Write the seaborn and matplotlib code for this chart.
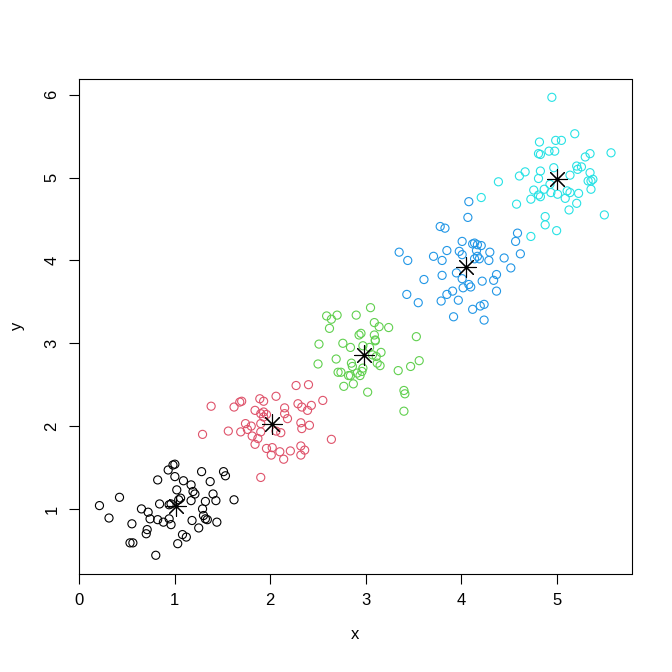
import matplotlib
matplotlib.use("Agg")
import matplotlib.pyplot as plt
import seaborn as sns
import pandas as pd

# points, one pair of lists per cluster
x1 = [0.21, 0.31, 0.42, 0.55, 0.53, 0.56, 0.65, 0.72, 0.74, 0.71, 0.70, 0.80, 0.82, 0.84, 0.82, 0.88,
      0.93, 0.98, 1.00, 1.00, 1.02, 0.94, 0.96, 0.94, 0.96, 1.06, 1.04, 1.09, 1.17, 1.19, 1.21, 1.17,
      1.08, 1.12, 1.03, 1.18, 1.25, 1.28, 1.37, 1.40, 1.32, 1.43, 1.29, 1.30, 1.32, 1.34, 1.44, 1.51,
      1.53, 1.62]
y1 = [1.04, 0.89, 1.14, 0.82, 0.59, 0.59, 1.00, 0.96, 0.88, 0.75, 0.70, 0.44, 1.35, 1.06, 0.87, 0.84,
      1.47, 1.53, 1.54, 1.39, 1.23, 1.05, 1.06, 0.88, 0.81, 1.13, 1.11, 1.34, 1.29, 1.21, 1.18, 1.10,
      0.69, 0.66, 0.58, 0.86, 0.77, 1.45, 1.33, 1.18, 1.09, 1.10, 1.00, 0.92, 0.88, 0.87, 0.84, 1.45,
      1.40, 1.11]

x2 = [1.29, 1.38, 1.56, 1.62, 1.68, 1.70, 1.69, 1.74, 1.76, 1.80, 1.81, 1.84, 1.84, 1.87, 1.89, 1.93,
      1.90, 1.93, 1.96, 1.93, 1.90, 1.90, 1.96, 2.02, 2.01, 2.06, 2.06, 2.11, 2.10, 2.15, 2.15, 2.18,
      2.14, 2.21, 2.27, 2.29, 2.33, 2.39, 2.43, 2.40, 2.32, 2.33, 2.41, 2.32, 2.36, 2.32, 2.55, 2.64,
      1.90]
y2 = [1.90, 2.24, 1.94, 2.23, 2.29, 2.30, 1.93, 2.03, 1.96, 2.00, 1.88, 2.19, 1.78, 1.85, 2.33, 2.30,
      2.15, 2.17, 2.14, 2.11, 2.03, 1.93, 1.73, 1.74, 1.65, 2.36, 1.94, 1.92, 1.69, 2.22, 2.15, 2.09,
      1.60, 1.70, 2.49, 2.27, 2.23, 2.19, 2.25, 2.50, 2.04, 1.97, 2.01, 1.76, 1.71, 1.65, 2.31, 1.84,
      1.38]

x3 = [2.59, 2.64, 2.70, 2.62, 2.51, 2.50, 2.69, 2.76, 2.84, 2.71, 2.74, 2.77, 2.82, 2.84, 2.87, 2.85,
      2.86, 2.90, 2.93, 2.95, 2.91, 2.94, 2.96, 2.97, 2.97, 3.02, 3.05, 3.09, 3.14, 3.09, 3.10, 3.10,
      3.04, 3.07, 3.11, 3.16, 3.12, 3.15, 3.24, 3.34, 3.40, 3.41, 3.40, 3.47, 3.53, 3.56]
y3 = [3.33, 3.29, 3.34, 3.18, 2.99, 2.75, 2.81, 3.00, 2.95, 2.65, 2.65, 2.48, 2.61, 2.61, 2.51, 2.76,
      2.72, 3.34, 3.10, 3.12, 2.64, 2.61, 2.66, 2.70, 2.97, 2.41, 3.43, 3.25, 3.20, 3.10, 3.04, 3.03,
      2.95, 2.86, 2.84, 2.89, 2.76, 2.73, 3.19, 2.67, 2.43, 2.39, 2.18, 2.72, 3.08, 2.79]

x4 = [3.35, 3.44, 3.43, 3.55, 3.61, 3.71, 3.78, 3.83, 3.80, 3.80, 3.79, 3.85, 3.91, 3.85, 3.92, 3.97,
      3.95, 3.98, 4.01, 4.01, 4.01, 4.02, 4.07, 4.08, 4.08, 4.10, 4.12, 4.12, 4.14, 4.17, 4.21, 4.16,
      4.17, 4.14, 4.19, 4.20, 4.24, 4.22, 4.24, 4.30, 4.29, 4.34, 4.37, 4.37, 4.45, 4.52, 4.57, 4.59,
      4.62]
y4 = [4.10, 4.00, 3.59, 3.49, 3.77, 4.05, 4.41, 4.39, 4.00, 3.82, 3.51, 3.59, 3.63, 4.12, 3.32, 3.52,
      3.85, 4.11, 4.07, 4.23, 3.78, 3.67, 4.52, 4.71, 3.71, 3.68, 3.41, 4.20, 4.21, 4.19, 4.18, 4.12,
      4.05, 4.02, 4.02, 3.45, 3.47, 3.75, 3.28, 4.10, 4.00, 3.76, 3.83, 3.63, 4.03, 3.91, 4.23, 4.33,
      4.08]

x5 = [4.95, 5.19, 4.82, 4.99, 5.05, 4.81, 4.83, 4.92, 4.98, 5.57, 5.30, 5.35, 5.21, 5.22, 5.26, 4.97,
      4.83, 4.67, 4.61, 4.81, 5.14, 4.39, 5.35, 5.33, 5.38, 5.36, 5.36, 4.76, 4.81, 4.83, 4.87, 4.94,
      5.01, 5.09, 5.11, 5.14, 5.23, 4.73, 4.58, 5.21, 5.13, 4.88, 4.88, 5.00, 5.50, 4.21, 4.73, 4.93]
y5 = [5.97, 5.53, 5.43, 5.45, 5.45, 5.29, 5.28, 5.32, 5.32, 5.30, 5.25, 5.29, 5.14, 5.10, 5.13, 5.12,
      5.08, 5.07, 5.02, 4.99, 5.03, 4.95, 5.06, 4.96, 4.98, 4.96, 4.86, 4.85, 4.79, 4.77, 4.86, 4.82,
      4.80, 4.75, 4.84, 4.82, 4.81, 4.74, 4.68, 4.69, 4.61, 4.53, 4.43, 4.36, 4.55, 4.76, 4.29, 4.92]

centers_x = [1.01, 2.02, 2.98, 4.05, 5.00]
centers_y = [1.03, 2.02, 2.86, 3.92, 4.98]

cluster_colors = ["#000000", "#DF536B", "#61D04F", "#2297E6", "#28E2E5"]

xs = [x1, x2, x3, x4, x5]
ys = [y1, y2, y3, y4, y5]
df = pd.DataFrame({
    "x": [v for xx in xs for v in xx],
    "y": [v for yy in ys for v in yy],
    "cluster": [i for i, xx in enumerate(xs) for _ in xx],
})
centers = pd.DataFrame({"x": centers_x, "y": centers_y})

sns.set_style("white")
plt.rcParams["font.family"] = ["Liberation Sans", "DejaVu Sans"]

fig = plt.figure(figsize=(6.72, 6.72), dpi=100)
ax = fig.add_axes([79 / 672, (672 - 573.6) / 672, 552.5 / 672, 494.6 / 672])

sns.scatterplot(data=df, x="x", y="y", hue="cluster", palette=cluster_colors,
                s=34, linewidth=0.8, legend=False, ax=ax)
pts = ax.collections[0]
pts.set_edgecolors(pts.get_facecolors())
pts.set_facecolors("none")

sns.scatterplot(data=centers, x="x", y="y", marker=(8, 2, 0), s=200,
                color="black", linewidth=0.8, ax=ax)

ax.margins(0.04)
ax.set_xticks([0, 1, 2, 3, 4, 5])
ax.set_yticks([1, 2, 3, 4, 5, 6])
ax.tick_params(direction="out", length=7, width=0.8, pad=7, labelsize=12,
               color="black", labelcolor="black", bottom=True, left=True)
for lab in ax.get_yticklabels():
    lab.set_rotation(90)
    lab.set_va("center")
for sp in ax.spines.values():
    sp.set_color("black")
    sp.set_linewidth(0.8)
ax.set_xlabel("x", fontsize=12, labelpad=14, color="black")
ax.set_ylabel("y", fontsize=12, labelpad=14, color="black")

fig.savefig("out.png", dpi=100)
plt.close(fig)
